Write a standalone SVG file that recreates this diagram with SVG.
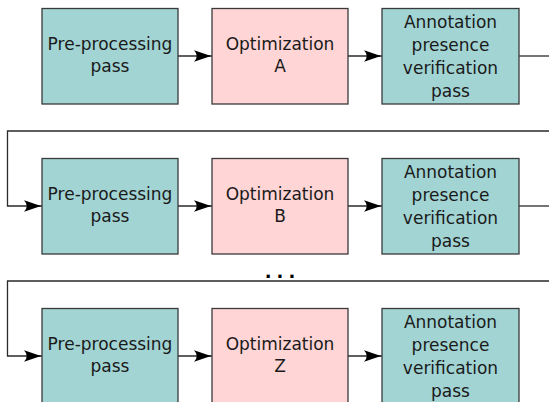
<svg xmlns="http://www.w3.org/2000/svg" width="549" height="402" viewBox="0 0 549 402">
<defs>
<style>
.box{stroke:#3a3a3a;stroke-width:1.3}
.pre{fill:#a2d4d4}
.opt{fill:#ffd5d5}
.lbl{font-family:"DejaVu Sans",sans-serif;font-size:17px;fill:#1a1a1a;text-anchor:middle}
.con{fill:none;stroke:#2a2a2a;stroke-width:1.3}
</style>
<marker id="arr" markerUnits="userSpaceOnUse" markerWidth="20" markerHeight="14" viewBox="-19 -7 20 14" refX="0" refY="0" orient="auto" overflow="visible">
<path d="M-0.5,0 C-6,-1.5 -12,-3.8 -18,-5.8 Q-12.5,0 -18,5.8 C-12,3.8 -6,1.5 -0.5,0 Z" fill="#000"/>
</marker>
</defs>
<rect width="549" height="402" fill="#fff"/>
<g id="connectors">
<path class="con" d="M178,56 H212" marker-end="url(#arr)"/>
<path class="con" d="M348,56 H382" marker-end="url(#arr)"/>
<path class="con" d="M549,131 H7.5 V206 H42" marker-end="url(#arr)"/>
<path class="con" d="M519,56 H549"/>
<path class="con" d="M178,206 H212" marker-end="url(#arr)"/>
<path class="con" d="M348,206 H382" marker-end="url(#arr)"/>
<path class="con" d="M519,206 H549"/>
<path class="con" d="M549,281 H7.5 V356 H42" marker-end="url(#arr)"/>
<path class="con" d="M178,356 H212" marker-end="url(#arr)"/>
<path class="con" d="M348,356 H382" marker-end="url(#arr)"/>
</g>
<g id="pre1"><rect class="box pre" x="42" y="8.5" width="136" height="95.5"/><text class="lbl" x="110" y="49.5">Pre-processing</text><text class="lbl" x="110" y="71.5">pass</text></g>
<g id="opt1"><rect class="box opt" x="212" y="8.5" width="136" height="95.5"/><text class="lbl" x="280" y="49.5">Optimization</text><text class="lbl" x="280" y="71.5">A</text></g>
<g id="ann1"><rect class="box pre" x="382" y="8.5" width="137" height="95.5"/><text class="lbl" x="450.5" y="27.5">Annotation</text><text class="lbl" x="450.5" y="50.5">presence</text><text class="lbl" x="450.5" y="73.5">verification</text><text class="lbl" x="450.5" y="96.5">pass</text></g>
<g id="pre2"><rect class="box pre" x="42" y="158.5" width="136" height="95.5"/><text class="lbl" x="110" y="199.5">Pre-processing</text><text class="lbl" x="110" y="221.5">pass</text></g>
<g id="opt2"><rect class="box opt" x="212" y="158.5" width="136" height="95.5"/><text class="lbl" x="280" y="199.5">Optimization</text><text class="lbl" x="280" y="221.5">B</text></g>
<g id="ann2"><rect class="box pre" x="382" y="158.5" width="137" height="95.5"/><text class="lbl" x="450.5" y="177.5">Annotation</text><text class="lbl" x="450.5" y="200.5">presence</text><text class="lbl" x="450.5" y="223.5">verification</text><text class="lbl" x="450.5" y="246.5">pass</text></g>
<g id="pre3"><rect class="box pre" x="42" y="308.5" width="136" height="95.5"/><text class="lbl" x="110" y="349.5">Pre-processing</text><text class="lbl" x="110" y="371.5">pass</text></g>
<g id="opt3"><rect class="box opt" x="212" y="308.5" width="136" height="95.5"/><text class="lbl" x="280" y="349.5">Optimization</text><text class="lbl" x="280" y="371.5">Z</text></g>
<g id="ann3"><rect class="box pre" x="382" y="308.5" width="137" height="95.5"/><text class="lbl" x="450.5" y="327.5">Annotation</text><text class="lbl" x="450.5" y="350.5">presence</text><text class="lbl" x="450.5" y="373.5">verification</text><text class="lbl" x="450.5" y="396.5">pass</text></g>
<text x="282.5" y="277.5" style="font-family:'DejaVu Sans',sans-serif;font-size:18px;font-weight:bold;fill:#000;text-anchor:middle;letter-spacing:5px">...</text>
</svg>
